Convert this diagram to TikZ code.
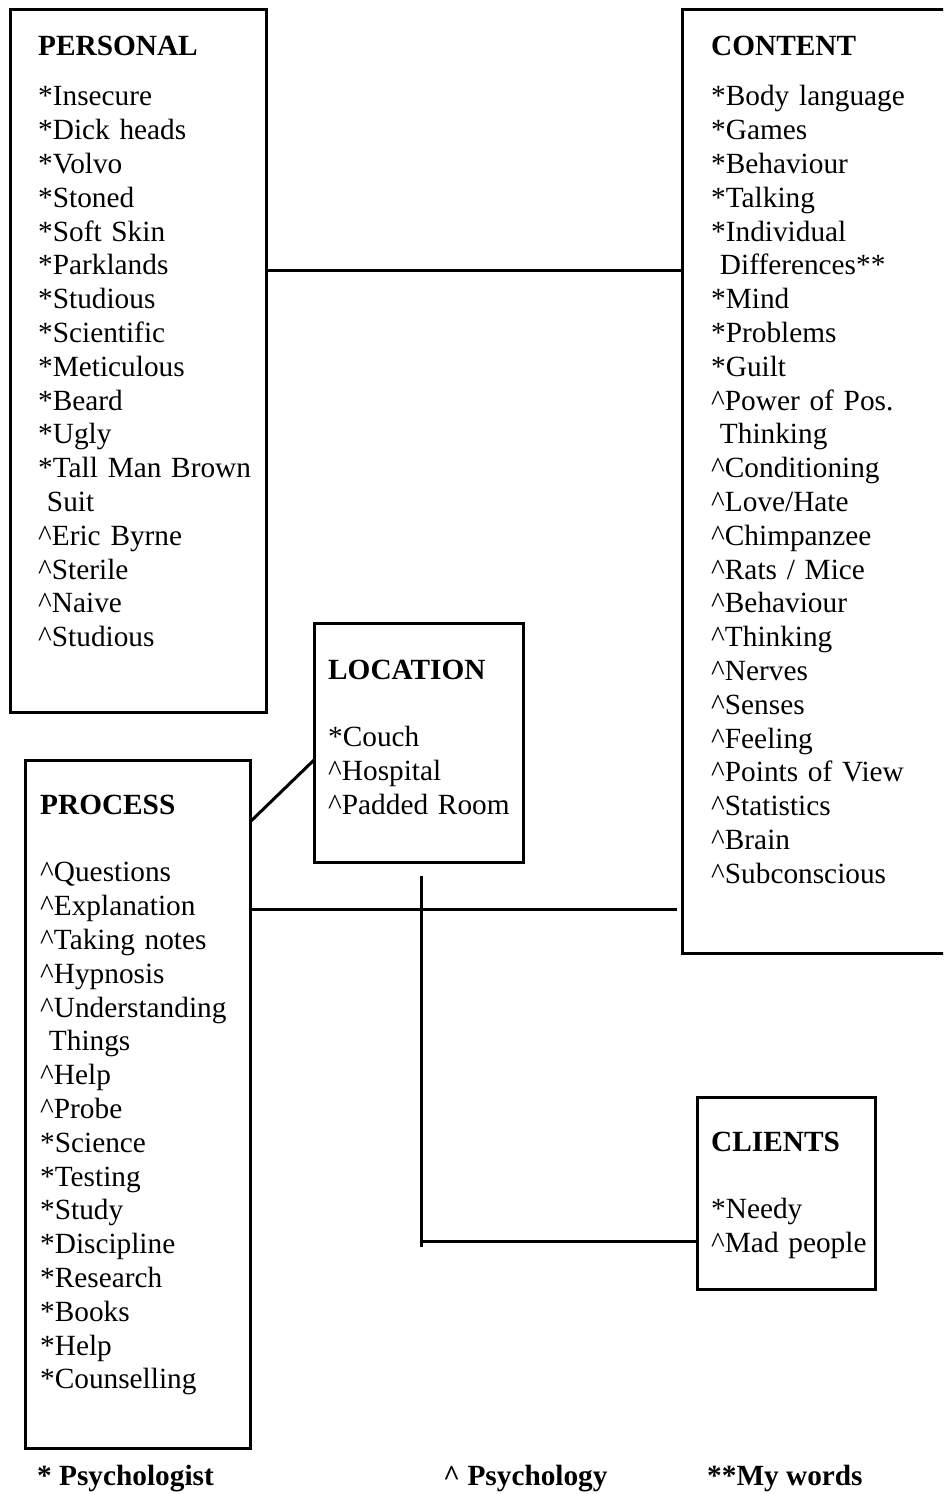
\documentclass[tikz,border=0pt]{standalone}
\usepackage{fontspec}
\setmainfont{Liberation Serif}
\usetikzlibrary{calc}

\newcommand{\caret}{\textasciicircum}

\tikzset{
	box/.style={draw, rectangle, line width=3pt, anchor=north west, inner sep=0pt, outer sep=0pt},
	boxtext/.style={anchor=base west, inner sep=0pt, text width=#1, align=left, font=\fontsize{29.3pt}{33.8pt}\selectfont},
	boxtext/.default=240pt,
	legend/.style={anchor=base west, inner sep=0pt, font=\fontsize{29.3pt}{33.8pt}\selectfont\bfseries},
	joinline/.style={line width=3pt}
}

\begin{document}
\begin{tikzpicture}[x=1pt, y=-1pt]
	\useasboundingbox (0,0) rectangle (943,1494);
	\clip (0,0) rectangle (943,1494);

	% boxes
	\node[box, minimum width=256pt, minimum height=703pt] (personal) at (10,9) {};
	\node[box, minimum width=400pt, minimum height=944pt] (content) at (682,9) {};
	\node[box, minimum width=209pt, minimum height=239pt] (location) at (314,623) {};
	\node[box, minimum width=225pt, minimum height=688pt] (process) at (25,760) {};
	\node[box, minimum width=178pt, minimum height=192pt] (clients) at (697,1097) {};

	\node[boxtext] (personaltext) at ($(personal.north west)+(28,46)$) {\textbf{PERSONAL}\\[17pt]
		{*}Insecure\\ {*}Dick heads\\ {*}Volvo\\ {*}Stoned\\ {*}Soft Skin\\ {*}Parklands\\
		{*}Studious\\ {*}Scientific\\ {*}Meticulous\\ {*}Beard\\ {*}Ugly\\ {*}Tall Man Brown\\
		\hspace*{0.3em}Suit\\ \caret Eric Byrne\\ \caret Sterile\\ \caret Naive\\ \caret Studious};

	\node[boxtext] (contenttext) at ($(content.north west)+(29,46)$) {\textbf{CONTENT}\\[17pt]
		{*}Body language\\ {*}Games\\ {*}Behaviour\\ {*}Talking\\ {*}Individual\\
		\hspace*{0.3em}Differences**\\ {*}Mind\\ {*}Problems\\ {*}Guilt\\ \caret Power of Pos.\\
		\hspace*{0.3em}Thinking\\ \caret Conditioning\\ \caret Love/Hate\\ \caret Chimpanzee\\
		\caret Rats / Mice\\ \caret Behaviour\\ \caret Thinking\\ \caret Nerves\\ \caret Senses\\
		\caret Feeling\\ \caret Points of View\\ \caret Statistics\\ \caret Brain\\ \caret Subconscious};

	\node[boxtext] (locationtext) at ($(location.north west)+(14,56)$) {\textbf{LOCATION}\\[34pt]
		{*}Couch\\ \caret Hospital\\ \caret Padded Room};

	\node[boxtext] (processtext) at ($(process.north west)+(15,54)$) {\textbf{PROCESS}\\[34pt]
		\caret Questions\\ \caret Explanation\\ \caret Taking notes\\ \caret Hypnosis\\
		\caret Understanding\\ \hspace*{0.3em}Things\\ \caret Help\\ \caret Probe\\ {*}Science\\
		{*}Testing\\ {*}Study\\ {*}Discipline\\ {*}Research\\ {*}Books\\ {*}Help\\ {*}Counselling};

	\node[boxtext] (clientstext) at ($(clients.north west)+(14,54)$) {\textbf{CLIENTS}\\[34pt]
		{*}Needy\\ \caret Mad people};

	% connectors
	\coordinate (tee) at (421,909);
	\coordinate (elbow) at (421,1241);

	\draw[joinline] ($(personal.north east)+(0,261)$) -- ($(content.north west)+(0,261)$);
	\draw[joinline] ($(process.north east)+(0,62)$) -- ($(location.north west)+(0,137)$);
	\draw[joinline] (process.east |- tee) -- ($(content.west |- tee)+(-5,0)$);
	\draw[joinline] ($(location.south -| tee)+(0,14)$) -- ($(elbow)+(0,6)$);
	\draw[joinline] (elbow) -- (clients.west |- elbow);

	% key
	\node[legend] (keypsychologist) at (37,1485) {* Psychologist};
	\node[legend] (keypsychology) at (443,1485) {\caret{} Psychology};
	\node[legend] (keywords) at (707,1485) {**My words};
\end{tikzpicture}
\end{document}
